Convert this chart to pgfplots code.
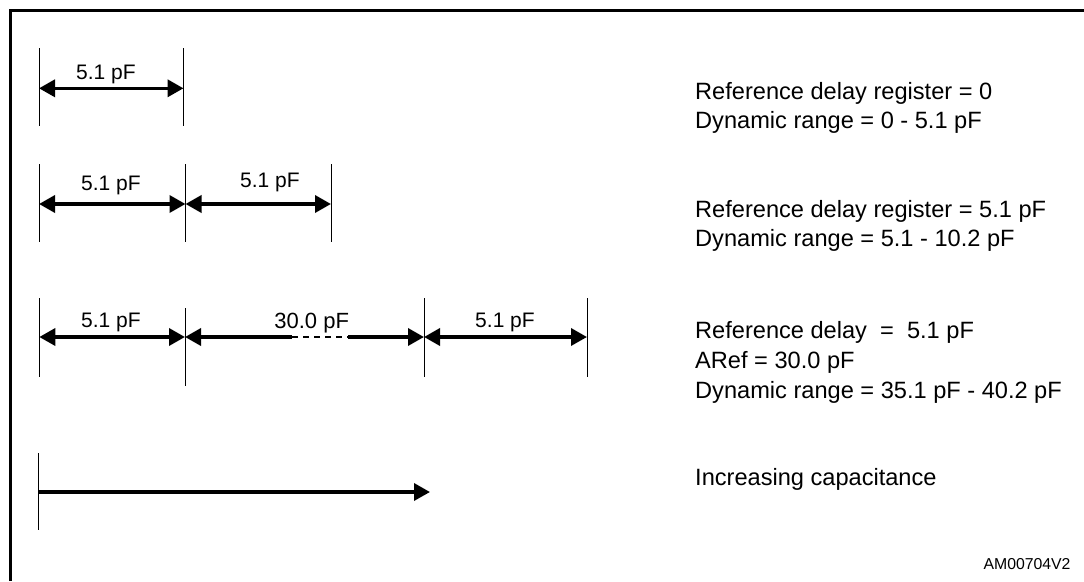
\documentclass[border=0pt]{standalone}
\usepackage{fontspec}
\setmainfont{Liberation Sans}
\usepackage{pgfplots}
\pgfplotsset{compat=1.18}
\usetikzlibrary{arrows.meta}

\tikzset{
  tip/.tip={Triangle[length=16pt,width=17pt]},
  tick/.style={black, line width=1.4pt},
  dim/.style={black, line width=3.5pt, tip-tip},
  lbl/.style={font=\fontsize{21}{24}\selectfont, anchor=base, inner sep=0pt},
  txt/.style={font=\fontsize{23.6}{29}\selectfont, anchor=base west, inner sep=0pt},
}

\begin{document}
\begin{tikzpicture}
\begin{axis}[
    scale only axis,
    width=1084pt, height=581pt,
    xmin=0, xmax=1084, ymin=0, ymax=581,
    y dir=reverse,
    hide axis,
    clip=false,
]
% frame (top and left sides)
\addplot[black, line width=3pt, line join=miter] coordinates {(10,581)(10,10.3)(1084,10.3)};

% row 1
\addplot[tick] coordinates {(39,48)(39,126)};
\addplot[tick] coordinates {(183.5,48)(183.5,126)};
\addplot[dim] coordinates {(39,88.3)(183.5,88.3)};
\node[lbl] at (axis cs:106,79) {5.1 pF};

% row 2
\addplot[tick] coordinates {(39,164)(39,242)};
\addplot[tick] coordinates {(185.5,164)(185.5,242)};
\addplot[tick] coordinates {(331,164)(331,242)};
\addplot[dim] coordinates {(39,204)(185.5,204)};
\addplot[dim] coordinates {(185.5,204)(331,204)};
\node[lbl] at (axis cs:111,190) {5.1 pF};
\node[lbl] at (axis cs:270,187) {5.1 pF};

% row 3
\addplot[tick] coordinates {(39.3,298)(39.3,377)};
\addplot[tick] coordinates {(185,308)(185,386)};
\addplot[tick] coordinates {(424,298)(424,377)};
\addplot[tick] coordinates {(587,298)(587,377)};
\addplot[dim] coordinates {(39.3,337)(185,337)};
\addplot[black, line width=3.5pt, tip-] coordinates {(185,337)(292,337)};
\addplot[black, line width=2.2pt, dash pattern=on 6pt off 5pt] coordinates {(292,337)(348,337)};
\addplot[black, line width=3.5pt, -tip] coordinates {(348,337)(424,337)};
\addplot[dim] coordinates {(424,337)(587,337)};
\node[lbl] at (axis cs:111,327) {5.1 pF};
\node[lbl, font=\fontsize{22}{24}\selectfont] at (axis cs:311.7,328) {30.0 pF};
\node[lbl] at (axis cs:505,327) {5.1 pF};

% row 4
\addplot[tick] coordinates {(38,453)(38,530)};
\addplot[black, line width=3.5pt, -tip] coordinates {(38,492)(430,492)};

% descriptions
\node[txt] at (axis cs:695,99) {Reference delay register = 0};
\node[txt] at (axis cs:695,128) {Dynamic range = 0 - 5.1 pF};
\node[txt] at (axis cs:695,217.5) {Reference delay register = 5.1 pF};
\node[txt] at (axis cs:695,246.5) {Dynamic range = 5.1 - 10.2 pF};
\node[txt] at (axis cs:695,338) {Reference delay \ = \ 5.1 pF};
\node[txt] at (axis cs:695,368) {ARef = 30.0 pF};
\node[txt] at (axis cs:695,398) {Dynamic range = 35.1 pF - 40.2 pF};
\node[txt] at (axis cs:695,485) {Increasing capacitance};
\node[font=\fontsize{15.8}{18}\selectfont, anchor=base east, inner sep=0pt] at (axis cs:1070.7,569) {AM00704V2};
\end{axis}
\pgfresetboundingbox
\path (0,0) rectangle (1084pt,581pt);
\end{tikzpicture}
\end{document}
